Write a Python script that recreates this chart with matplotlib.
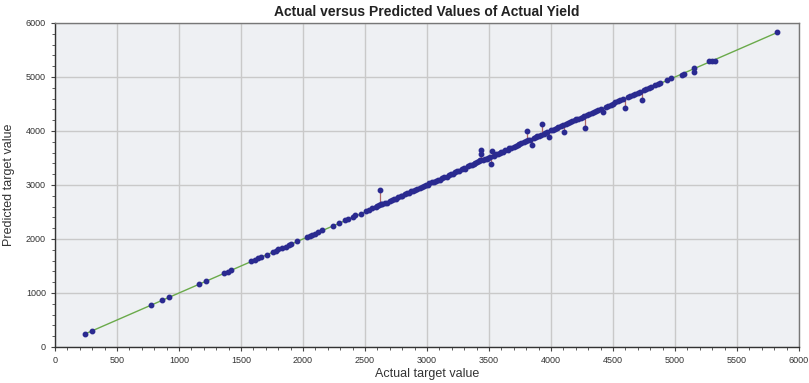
import matplotlib
matplotlib.use("Agg")
import matplotlib.pyplot as plt
from matplotlib.ticker import MultipleLocator

plt.rcParams["font.family"] = ["Liberation Sans", "DejaVu Sans"]

title = "Actual versus Predicted Values of Actual Yield"
x_label = "Actual target value"
y_label = "Predicted target value"

actual = [245, 296, 771, 866, 919, 1161, 1215, 1360, 1392, 1420, 1578, 1610, 1635, 1660,
          1707, 1755, 1780, 1800, 1830, 1860, 1885, 1905, 1955, 2030, 2055, 2075, 2095, 2120,
          2150, 2245, 2290, 2340, 2365, 2400, 2420, 2465, 2510, 2535, 2560, 2585, 2600, 2615,
          2620, 2630, 2640,
          2660, 2680, 2700, 2715, 2730, 2750, 2770, 2790, 2800, 2820, 2840, 2855, 2870, 2890,
          2905, 2920, 2940, 2960, 2975, 2990, 3005, 3020, 3040, 3055, 3070, 3090, 3105, 3120,
          3140, 3160, 3175, 3190, 3210, 3225, 3240, 3260, 3280, 3295, 3310, 3330, 3345, 3360,
          3375, 3390, 3405, 3420, 3430, 3438, 3438, 3450, 3465, 3480, 3495, 3510, 3514, 3527,
          3540, 3555, 3570, 3585, 3600, 3615, 3630, 3650, 3665, 3680, 3700, 3715, 3730, 3745,
          3760, 3780, 3795, 3804, 3815, 3830, 3844, 3860, 3875, 3890, 3905, 3920, 3927, 3940,
          3955, 3970, 3984, 4000, 4015, 4030, 4045, 4060, 4080, 4095, 4105, 4120, 4140, 4155,
          4170, 4190, 4205, 4220, 4240, 4255, 4270, 4277, 4290, 4310, 4330, 4345, 4360, 4380,
          4400, 4422, 4440, 4460, 4480, 4500, 4520, 4540, 4560, 4580, 4599, 4620, 4640, 4660,
          4680, 4700, 4720, 4734, 4750, 4770, 4790, 4810, 4835, 4860, 4880, 4935, 4965, 5055,
          5075, 5150, 5155, 5277, 5300, 5323, 5825]

predicted = [246, 302, 777, 863, 925, 1166, 1228, 1365, 1392, 1425, 1585, 1612, 1640, 1668,
             1712, 1752, 1782, 1806, 1835, 1860, 1890, 1912, 1962, 2035, 2060, 2072, 2100, 2125,
             2158, 2250, 2290, 2348, 2370, 2410, 2440, 2470, 2520, 2540, 2570, 2590, 2610, 2625,
             2900, 2640, 2650,
             2668, 2672, 2712, 2720, 2738, 2745, 2782, 2795, 2790, 2832, 2845, 2850, 2885, 2896,
             2900, 2930, 2948, 2955, 2990, 2998, 3000, 3030, 3052, 3050, 3082, 3098, 3100, 3135,
             3146, 3155, 3190, 3202, 3205, 3240, 3252, 3255, 3295, 3310, 3305, 3345, 3362, 3368,
             3382, 3410, 3425, 3445, 3460, 3640, 3580, 3470, 3478, 3490, 3500, 3525, 3389, 3622,
             3545, 3568, 3575, 3600, 3610, 3620, 3645, 3655, 3680, 3690, 3705, 3730, 3738, 3760,
             3770, 3790, 3810, 3993, 3830, 3838, 3746, 3872, 3880, 3905, 3915, 3930, 4130, 3950,
             3968, 3975, 3889, 4012, 4020, 4045, 4050, 4075, 4085, 4108, 3981, 4130, 4150, 4160,
             4185, 4195, 4215, 4230, 4245, 4265, 4280, 4055, 4300, 4318, 4340, 4350, 4372, 4385,
             4410, 4344, 4450, 4468, 4490, 4505, 4530, 4548, 4565, 4592, 4426, 4628, 4650, 4665,
             4690, 4710, 4725, 4580, 4760, 4778, 4800, 4815, 4845, 4868, 4895, 4945, 4978, 5030,
             5060, 5100, 5170, 5300, 5305, 5300, 5826]

fig = plt.figure(figsize=(8.09, 3.83), dpi=100)
ax = fig.add_axes([55 / 809, 36 / 383, 744 / 809, 324 / 383])
ax.set_facecolor("#eef0f3")

lo, hi = min(actual), max(actual)
ax.plot([lo, hi], [lo, hi], color="#6aaa4a", lw=1.0, zorder=2)
ax.vlines(actual, actual, predicted, colors="#b06868", lw=0.9, zorder=2)
ax.plot(actual, predicted, "o", color="#2a2a90", ms=3.2, mec="#2a2a90", zorder=3)

ax.set_xlim(0, 6000)
ax.set_ylim(0, 6000)
ax.xaxis.set_major_locator(MultipleLocator(500))
ax.xaxis.set_minor_locator(MultipleLocator(100))
ax.yaxis.set_major_locator(MultipleLocator(1000))
ax.yaxis.set_minor_locator(MultipleLocator(200))
ax.grid(True, which="major", color="#c9c9c9", lw=1.0)
ax.set_axisbelow(True)
ax.tick_params(which="major", length=3, width=0.8, color="#444", labelsize=6.5,
               labelcolor="#333", direction="out")
ax.tick_params(which="minor", length=2, width=0.6, color="#444", direction="out")
for s in ["left", "bottom"]:
    ax.spines[s].set_color("#333")
    ax.spines[s].set_linewidth(1.0)
for s in ["top", "right"]:
    ax.spines[s].set_color("#777")
    ax.spines[s].set_linewidth(1.0)

ax.set_title(title, fontsize=10, fontweight="bold", color="#222", pad=5)
ax.set_xlabel(x_label, fontsize=9, color="#333", labelpad=2)
ax.set_ylabel(y_label, fontsize=9, color="#333", labelpad=8)

fig.savefig("out.png", dpi=100, facecolor="white")
